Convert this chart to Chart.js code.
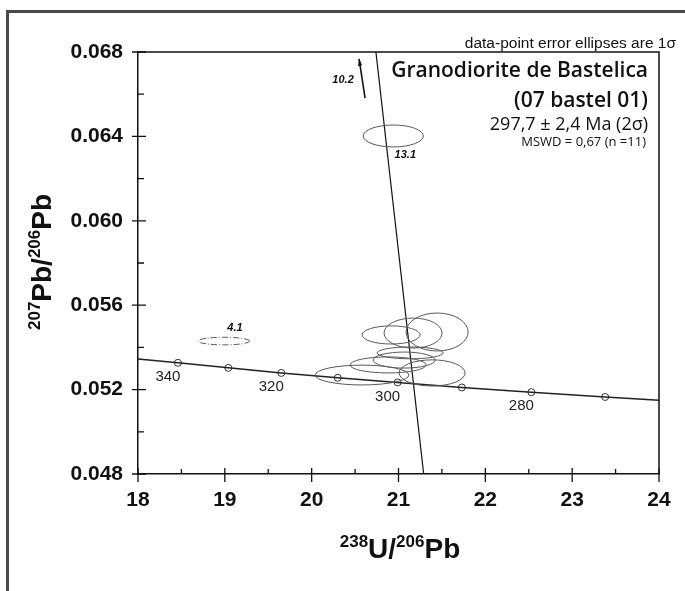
<!DOCTYPE html>
<html>
<head>
<meta charset="utf-8">
<script src="https://cdn.jsdelivr.net/npm/chart.js@4.4.1/dist/chart.umd.min.js"></script>
<style>
  html, body { margin: 0; padding: 0; background: #fff; }
  #wrap { width: 685px; height: 591px; }
</style>
</head>
<body>
<div id="wrap"><canvas id="concordia" width="685" height="591"></canvas></div>
<script>
// concordia marks (Ma)
const ages = ['340', '330', '320', '310', '300', '290', '280', '270'];
const ageShown = ['340', '320', '300', '280'];
const concX = [18.46, 19.04, 19.65, 20.30, 20.99, 21.73, 22.53, 23.38];
const concY = [0.05327, 0.05303, 0.05279, 0.05256, 0.05234, 0.05210, 0.05188, 0.05165];
// where the concordia meets the frame
const concEndX = [18, 24];
const concEndY = [0.05345, 0.05150];

// discordia through the cluster
const discX = [20.74, 21.29];
const discY = [0.068, 0.048];

// error ellipses (1 sigma)
const ellName = ['', '', '', '', '', '', '', '', '13.1', '4.1'];
const ellX  = [20.915, 21.168, 21.445, 21.134, 21.065, 20.880, 20.580, 21.387, 20.940, 18.990];
const ellY  = [0.05459, 0.05468, 0.05473, 0.05374, 0.05340, 0.05317, 0.05269, 0.05279, 0.06402, 0.05430];
const ellRX = [0.334, 0.334, 0.357, 0.380, 0.357, 0.438, 0.540, 0.380, 0.346, 0.296];
const ellRY = [0.00043, 0.00071, 0.00090, 0.00028, 0.00038, 0.00038, 0.00047, 0.00062, 0.00052, 0.00018];
const ellDashed = [false, false, false, false, false, false, false, false, false, true];

// grain 10.2 plots off the top
const arrowX = [20.615, 20.546];
const arrowY = [0.06582, 0.06767];

const xMajor = [18, 19, 20, 21, 22, 23, 24];
const xMinor = [18.5, 19.5, 20.5, 21.5, 22.5, 23.5];
const yMajor = [0.048, 0.052, 0.056, 0.060, 0.064, 0.068];
const yMinor = [0.050, 0.054, 0.058, 0.062, 0.066];

const sans = 'Liberation Sans, Arial, sans-serif';
const titleFont = '"Open Sans", "Noto Sans", sans-serif';

const decor = {
    id: 'decor',
    beforeDraw(chart) {
        const ctx = chart.ctx;
        ctx.save();
        ctx.fillStyle = '#fff';
        ctx.fillRect(0, 0, chart.width, chart.height);
        // outer frame of the figure
        ctx.strokeStyle = '#4a4a4a';
        ctx.lineWidth = 3;
        ctx.beginPath();
        ctx.moveTo(7.5, 600);
        ctx.lineTo(7.5, 11.5);
        ctx.lineTo(700, 11.5);
        ctx.stroke();
        ctx.restore();
    },
    afterDatasetsDraw(chart) {
        const ctx = chart.ctx;
        const xs = chart.scales.x, ys = chart.scales.y;
        const a = chart.chartArea;
        ctx.save();

        // error ellipses
        ctx.strokeStyle = '#5a5a5a';
        ctx.lineWidth = 1;
        for (let i = 0; i < ellX.length; i++) {
            const cx = xs.getPixelForValue(ellX[i]);
            const cy = ys.getPixelForValue(ellY[i]);
            const rx = Math.abs(xs.getPixelForValue(ellX[i] + ellRX[i]) - cx);
            const ry = Math.abs(ys.getPixelForValue(ellY[i] + ellRY[i]) - cy);
            ctx.setLineDash(ellDashed[i] ? [6, 2, 1, 2] : []);
            ctx.beginPath();
            ctx.ellipse(cx, cy, rx, ry, 0, 0, Math.PI * 2);
            ctx.stroke();
        }
        ctx.setLineDash([]);

        // ellipse names
        ctx.fillStyle = '#111';
        ctx.font = 'italic bold 11px ' + sans;
        ctx.textAlign = 'center';
        ctx.textBaseline = 'middle';
        const p13 = [xs.getPixelForValue(ellX[8]), ys.getPixelForValue(ellY[8])];
        ctx.fillText(ellName[8], p13[0] + 12, p13[1] + 19);
        const p4 = [xs.getPixelForValue(ellX[9]), ys.getPixelForValue(ellY[9])];
        ctx.fillText(ellName[9], p4[0] + 11, p4[1] - 13);

        // arrow for 10.2
        const t0 = [xs.getPixelForValue(arrowX[0]), ys.getPixelForValue(arrowY[0])];
        const t1 = [xs.getPixelForValue(arrowX[1]), ys.getPixelForValue(arrowY[1])];
        ctx.strokeStyle = '#111';
        ctx.lineWidth = 1.6;
        ctx.beginPath();
        ctx.moveTo(t0[0], t0[1]);
        ctx.lineTo(t1[0], t1[1]);
        ctx.stroke();
        const ang = Math.atan2(t1[1] - t0[1], t1[0] - t0[0]);
        ctx.fillStyle = '#111';
        ctx.beginPath();
        ctx.moveTo(t1[0], t1[1]);
        ctx.lineTo(t1[0] - 7 * Math.cos(ang - 0.3), t1[1] - 7 * Math.sin(ang - 0.3));
        ctx.lineTo(t1[0] - 7 * Math.cos(ang + 0.3), t1[1] - 7 * Math.sin(ang + 0.3));
        ctx.closePath();
        ctx.fill();
        ctx.fillText('10.2', t0[0] - 22, t0[1] - 18);

        // age labels on the concordia
        ctx.font = '15px ' + sans;
        ctx.fillStyle = '#222';
        for (let i = 0; i < ages.length; i++) {
            if (!ageShown.includes(ages[i])) continue;
            const px = xs.getPixelForValue(concX[i]);
            const py = ys.getPixelForValue(concY[i]);
            ctx.fillText(ages[i], px - 10, py + 14);
        }

        // top and right frame lines
        ctx.strokeStyle = '#111';
        ctx.lineWidth = 1.5;
        ctx.beginPath();
        ctx.moveTo(a.left, a.top);
        ctx.lineTo(a.right, a.top);
        ctx.lineTo(a.right, a.bottom);
        ctx.stroke();

        // ticks crossing the axes
        ctx.lineWidth = 1.3;
        ctx.beginPath();
        xMajor.forEach(v => {
            const px = xs.getPixelForValue(v);
            ctx.moveTo(px, a.bottom - 6);
            ctx.lineTo(px, a.bottom + 8);
        });
        xMinor.forEach(v => {
            const px = xs.getPixelForValue(v);
            ctx.moveTo(px, a.bottom - 5);
            ctx.lineTo(px, a.bottom);
        });
        yMajor.forEach(v => {
            const py = ys.getPixelForValue(v);
            ctx.moveTo(a.left - 6, py);
            ctx.lineTo(a.left + 8, py);
        });
        yMinor.forEach(v => {
            const py = ys.getPixelForValue(v);
            ctx.moveTo(a.left, py);
            ctx.lineTo(a.left + 6, py);
        });
        ctx.stroke();

        // labels in the corner
        ctx.fillStyle = '#111';
        ctx.textAlign = 'right';
        ctx.textBaseline = 'alphabetic';
        ctx.font = '15.5px ' + sans;
        ctx.fillText('data-point error ellipses are 1\u03c3', 676, 48);
        ctx.font = '600 21px ' + titleFont;
        ctx.fillText('Granodiorite de Bastelica', 648, 77);
        ctx.fillText('(07 bastel 01)', 648, 107);
        ctx.font = '18px ' + titleFont;
        ctx.fillText('297,7 \u00b1 2,4 Ma (2\u03c3)', 648, 130);
        ctx.font = '13px ' + titleFont;
        ctx.fillText('MSWD = 0,67 (n =11)', 646, 146);

        // axis titles with superscripts
        const drawSup = (parts, x, y) => {
            let w = 0;
            parts.forEach(p => {
                ctx.font = (p[1] ? 'bold 17px ' : 'bold 28px ') + sans;
                w += ctx.measureText(p[0]).width;
            });
            let cx = x - w / 2;
            ctx.textAlign = 'left';
            parts.forEach(p => {
                ctx.font = (p[1] ? 'bold 17px ' : 'bold 28px ') + sans;
                ctx.fillText(p[0], cx, p[1] ? y - 11 : y);
                cx += ctx.measureText(p[0]).width;
            });
        };
        drawSup([['238', true], ['U/', false], ['206', true], ['Pb', false]], 400, 558);
        ctx.save();
        ctx.translate(51, 262);
        ctx.rotate(-Math.PI / 2);
        drawSup([['207', true], ['Pb/', false], ['206', true], ['Pb', false]], 0, 0);
        ctx.restore();

        ctx.restore();
    }
};

new Chart(document.getElementById('concordia').getContext('2d'), {
    type: 'scatter',
    data: {
        datasets: [
            {
                label: 'discordia',
                data: discX.map((x, i) => ({ x: x, y: discY[i] })),
                showLine: true,
                borderColor: '#111',
                borderWidth: 1.2,
                pointRadius: 0
            },
            {
                label: 'concordia',
                data: [{ x: concEndX[0], y: concEndY[0] }]
                    .concat(concX.map((x, i) => ({ x: x, y: concY[i] })))
                    .concat([{ x: concEndX[1], y: concEndY[1] }]),
                showLine: true,
                borderColor: '#222',
                borderWidth: 1.5,
                pointRadius: 0
            },
            {
                label: 'ages',
                data: concX.map((x, i) => ({ x: x, y: concY[i] })),
                pointRadius: 3.5,
                pointBackgroundColor: '#fff',
                pointBorderColor: '#333',
                pointBorderWidth: 1
            }
        ]
    },
    options: {
        responsive: false,
        animation: false,
        layout: {
            padding: { left: 0, top: 52, right: 26, bottom: 0 }
        },
        plugins: {
            legend: { display: false },
            tooltip: { enabled: false }
        },
        scales: {
            x: {
                type: 'linear',
                min: 18,
                max: 24,
                afterFit: s => { s.height = 117; },
                grid: { display: false, drawTicks: false },
                border: { display: true, color: '#111', width: 1.5 },
                ticks: {
                    stepSize: 1,
                    padding: 14,
                    color: '#111',
                    font: { family: sans, size: 21, weight: 'bold' }
                }
            },
            y: {
                type: 'linear',
                min: 0.048,
                max: 0.068,
                afterFit: s => { s.width = 138; },
                grid: { display: false, drawTicks: false },
                border: { display: true, color: '#111', width: 1.5 },
                ticks: {
                    stepSize: 0.004,
                    padding: 15,
                    color: '#111',
                    font: { family: sans, size: 21, weight: 'bold' },
                    callback: v => v.toFixed(3)
                }
            }
        }
    },
    plugins: [decor]
});
</script>
</body>
</html>
